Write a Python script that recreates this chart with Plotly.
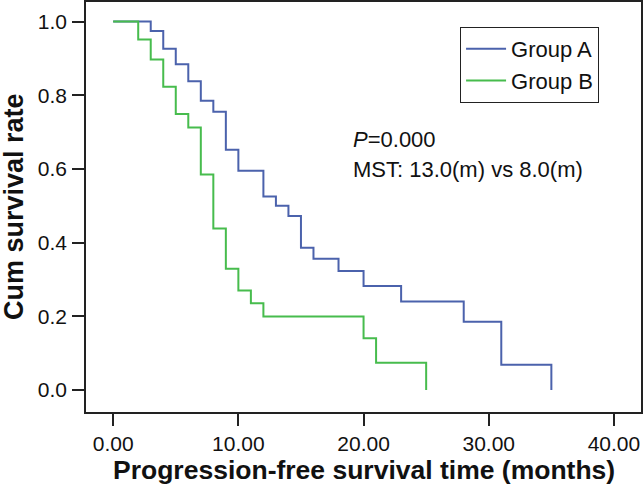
import plotly.graph_objects as go

# Group A (blue)
a_time = [0, 3, 4, 5, 6, 7, 8, 9, 10, 12, 13, 14, 15, 16, 18, 20, 23, 28, 31, 35]
a_surv = [1.0, 0.974, 0.926, 0.884, 0.838, 0.785, 0.755, 0.652, 0.595, 0.525,
          0.500, 0.472, 0.386, 0.356, 0.323, 0.282, 0.240, 0.185, 0.068, 0.0]
# Group B (green)
b_time = [0, 2, 3, 4, 5, 6, 7, 8, 9, 10, 11, 12, 20, 21, 25]
b_surv = [1.0, 0.951, 0.897, 0.823, 0.749, 0.712, 0.585, 0.438, 0.329, 0.270,
          0.235, 0.199, 0.140, 0.074, 0.0]

x_ticks = [0, 10, 20, 30, 40]
x_tick_labels = ["0.00", "10.00", "20.00", "30.00", "40.00"]
y_ticks = [0.0, 0.2, 0.4, 0.6, 0.8, 1.0]
y_tick_labels = ["0.0", "0.2", "0.4", "0.6", "0.8", "1.0"]

FONT = "Liberation Sans, Arial, sans-serif"
BLUE = "#4B62AC"
GREEN = "#47BC4D"

fig = go.Figure()
fig.add_trace(go.Scatter(x=a_time, y=a_surv, mode="lines", name="Group A",
                         line=dict(color=BLUE, width=2, shape="hv")))
fig.add_trace(go.Scatter(x=b_time, y=b_surv, mode="lines", name="Group B",
                         line=dict(color=GREEN, width=2, shape="hv")))

axis_common = dict(showline=True, linecolor="#222", linewidth=1.5, mirror=True,
                   ticks="outside", ticklen=12, tickwidth=1.5, tickcolor="#222",
                   showgrid=False, zeroline=False,
                   tickfont=dict(family=FONT, size=21, color="#111"))

fig.update_xaxes(range=[-2.17, 42.16], tickvals=x_ticks, ticktext=x_tick_labels,
                 ticklabelstandoff=0, **axis_common)
fig.update_yaxes(range=[-0.06, 1.053], tickvals=y_ticks, ticktext=y_tick_labels,
                 ticklabelstandoff=1, **axis_common)

fig.update_layout(
    width=643, height=489,
    margin=dict(l=86, r=2, t=2, b=77, autoexpand=False),
    plot_bgcolor="white", paper_bgcolor="white",
    showlegend=True,
    legend=dict(x=0.674, y=0.939, xanchor="left", yanchor="top",
                bordercolor="#222", borderwidth=1, bgcolor="white",
                itemwidth=40,
                font=dict(family=FONT, size=22, color="#111")),
    annotations=[
        dict(text="<b>Progression-free survival time (months)</b>", xref="paper", yref="paper",
             x=0.5, y=0, yshift=-58, xanchor="center", yanchor="middle", showarrow=False,
             font=dict(family=FONT, size=26.5, color="#111")),
        dict(text="<b>Cum survival rate</b>", xref="paper", yref="paper",
             x=0, y=0.5, xshift=-72, xanchor="center", yanchor="middle", textangle=-90,
             showarrow=False, font=dict(family=FONT, size=27, color="#111")),
        dict(text="<i>P</i>=0.000", xref="x", yref="y", x=19.0, y=0.68,
             xanchor="left", yanchor="middle", showarrow=False,
             font=dict(family=FONT, size=22, color="#111")),
        dict(text="MST: 13.0(m) vs 8.0(m)", xref="x", yref="y", x=19.0, y=0.597,
             xanchor="left", yanchor="middle", showarrow=False,
             font=dict(family=FONT, size=22, color="#111")),
    ],
)

fig.write_html("out.html", config={"displayModeBar": False},
               post_script="document.body.style.margin='0';")
